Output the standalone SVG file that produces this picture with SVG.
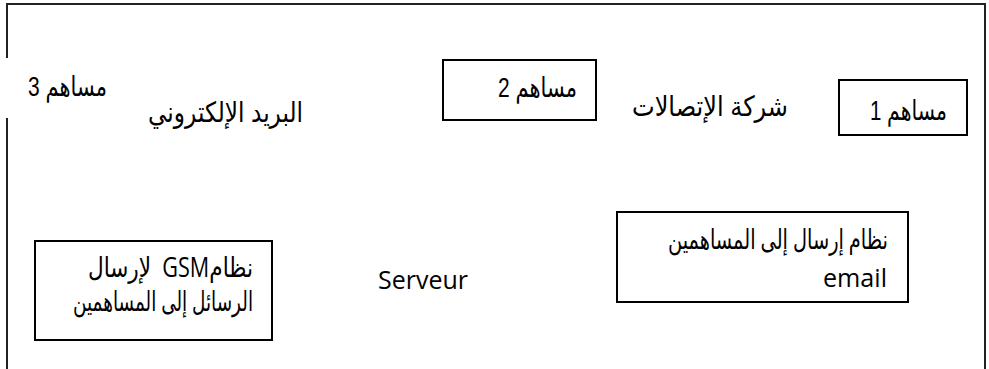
<svg xmlns="http://www.w3.org/2000/svg" width="989" height="369" viewBox="0 0 989 369">
  <style>
    .frame { fill: none; stroke: #222; stroke-width: 2; }
    .box { fill: #fff; stroke: #000; stroke-width: 2; }
    .ar { font-family: "Liberation Sans", "DejaVu Sans", sans-serif; font-size: 28px; fill: #000; direction: rtl; }
    .ar2 { font-family: "Open Sans", "DejaVu Sans", sans-serif; font-size: 27px; fill: #000; direction: rtl; }
    .lat { font-family: "Open Sans", "DejaVu Sans", sans-serif; font-size: 25px; fill: #000; }
  </style>

  <!-- outer frame: top edge, right edge and the broken left edge -->
  <g id="frame">
    <path class="frame" d="M7,58 V4 H985 V369"/>
    <path class="frame" d="M7,118 V369"/>
  </g>

  <g id="connectors"/>

  <g id="contributor-3">
    <text class="ar" x="107" y="96" text-anchor="start" textLength="79" lengthAdjust="spacingAndGlyphs">مساهم 3</text>
  </g>

  <g id="email-label">
    <text class="ar" x="303" y="122" text-anchor="start" textLength="155" lengthAdjust="spacingAndGlyphs">البريد الإلكتروني</text>
  </g>

  <g id="contributor-2">
    <rect class="box" x="443" y="60" width="153" height="60"/>
    <text class="ar" x="577" y="97" text-anchor="start" textLength="79" lengthAdjust="spacingAndGlyphs">مساهم 2</text>
  </g>

  <g id="telecom-label">
    <text class="ar" x="788" y="116" text-anchor="start" textLength="156" lengthAdjust="spacingAndGlyphs">شركة الإتصالات</text>
  </g>

  <g id="contributor-1">
    <rect class="box" x="839" y="80" width="128" height="55"/>
    <text class="ar" x="947" y="120" text-anchor="start" textLength="77" lengthAdjust="spacingAndGlyphs">مساهم 1</text>
  </g>

  <g id="gsm-system">
    <rect class="box" x="35" y="241" width="237" height="99"/>
    <text class="ar2" x="253" y="277" text-anchor="start" textLength="165" lengthAdjust="spacingAndGlyphs" xml:space="preserve">نظامGSM  لإرسال</text>
    <text class="ar2" x="253" y="311" text-anchor="start" textLength="180" lengthAdjust="spacingAndGlyphs">الرسائل إلى المساهمين</text>
  </g>

  <g id="server">
    <text class="lat" x="378" y="289" textLength="90" lengthAdjust="spacingAndGlyphs">Serveur</text>
  </g>

  <g id="email-system">
    <rect class="box" x="617" y="212" width="291" height="90"/>
    <text class="ar2" x="888" y="249" text-anchor="start" textLength="220" lengthAdjust="spacingAndGlyphs">نظام إرسال إلى المساهمين</text>
    <text class="lat" x="887" y="287" text-anchor="end" textLength="64" lengthAdjust="spacingAndGlyphs">email</text>
  </g>
</svg>
